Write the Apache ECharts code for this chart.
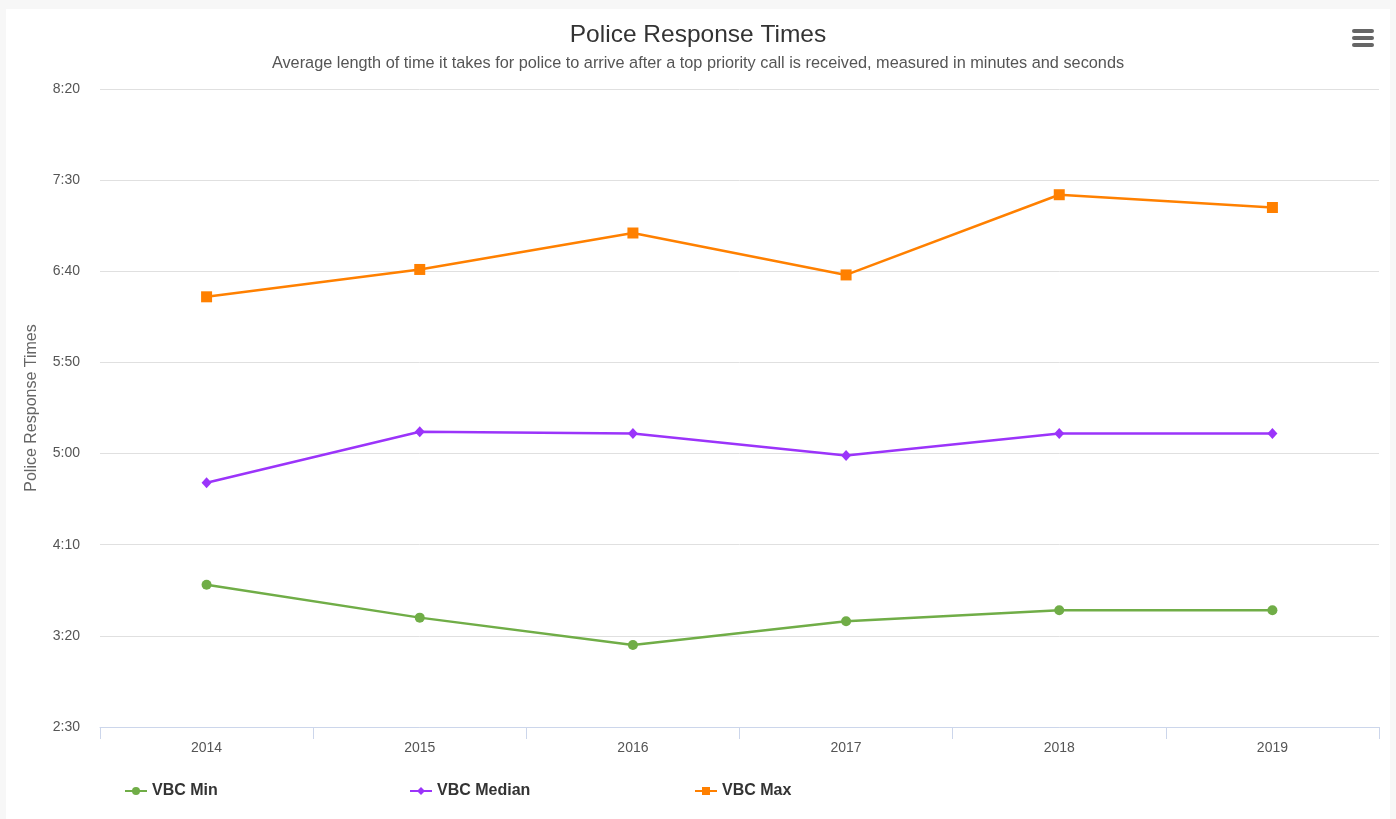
<!DOCTYPE html>
<html>
<head>
<meta charset="utf-8">
<title>Police Response Times</title>
<script src="https://cdn.jsdelivr.net/npm/echarts@6/dist/echarts.min.js"></script>
<style>
  html, body { margin: 0; padding: 0; background: #f7f7f7; }
  #card { position: absolute; left: 6px; top: 9px; width: 1384px; height: 810px; background: #ffffff; }
  #chart { position: absolute; left: 0; top: 0; width: 1396px; height: 819px; }
</style>
</head>
<body>
<div id="card"></div>
<div id="chart"></div>
<script>
// Years on the category axis
const years = ['2014', '2015', '2016', '2017', '2018', '2019'];

// Response times in seconds
const vbcMin    = [228, 210, 195, 208, 214, 214];
const vbcMedian = [284, 312, 311, 299, 311, 311];
const vbcMax    = [386, 401, 421, 398, 442, 435];

// Value axis range in seconds (2:30 to 8:20, every 50 s)
const yMin = 150;
const yMax = 500;
const yStep = 50;

const FONT = '"Liberation Sans", Arial, Helvetica, sans-serif';

function mmss(sec) {
  const m = Math.floor(sec / 60);
  const s = Math.round(sec - m * 60);
  return m + ':' + (s < 10 ? '0' + s : s);
}

const chart = echarts.init(document.getElementById('chart'), null, { renderer: 'canvas' });

function legendAt(name, left) {
  return {
    data: [name],
    left: left,
    top: 778,
    itemWidth: 22,
    itemHeight: 10,
    itemGap: 6,
    textStyle: { fontFamily: FONT, fontSize: 16, fontWeight: 'bold', color: '#333333' }
  };
}

const option = {
  backgroundColor: 'transparent',
  animation: false,
  textStyle: { fontFamily: FONT },
  title: {
    text: 'Police Response Times',
    subtext: 'Average length of time it takes for police to arrive after a top priority call is received, measured in minutes and seconds',
    left: 'center',
    top: 18,
    itemGap: 8,
    textStyle: { fontFamily: FONT, fontSize: 24.5, fontWeight: 'normal', color: '#333333' },
    subtextStyle: { fontFamily: FONT, fontSize: 16.3, color: '#555555' }
  },
  legend: [
    legendAt('VBC Min', 119),
    legendAt('VBC Median', 404),
    legendAt('VBC Max', 689)
  ],
  grid: { left: 100, right: 17, top: 89, bottom: 92, containLabel: false },
  xAxis: {
    type: 'category',
    data: years,
    boundaryGap: true,
    axisLine: { lineStyle: { color: '#ccd6eb', width: 1 } },
    axisTick: { show: true, alignWithLabel: false, length: 12, lineStyle: { color: '#ccd6eb' } },
    axisLabel: { color: '#555555', fontSize: 14, margin: 14, fontFamily: FONT },
    splitLine: { show: false }
  },
  yAxis: {
    type: 'value',
    min: yMin,
    max: yMax,
    interval: yStep,
    name: 'Police Response Times',
    nameLocation: 'middle',
    nameRotate: 90,
    nameGap: 60,
    nameTextStyle: { color: '#666666', fontSize: 16, fontFamily: FONT },
    axisLine: { show: false },
    axisTick: { show: false },
    axisLabel: { color: '#555555', fontSize: 14, margin: 20, padding: [4, 0, 0, 0], fontFamily: FONT, formatter: mmss },
    splitLine: { lineStyle: { color: '#e0e0e0', width: 1 } }
  },
  series: [
    {
      name: 'VBC Min', type: 'line', data: vbcMin,
      symbol: 'circle', symbolSize: 10,
      itemStyle: { color: '#70ad47' },
      lineStyle: { color: '#70ad47', width: 2.5 }
    },
    {
      name: 'VBC Median', type: 'line', data: vbcMedian,
      symbol: 'diamond', symbolSize: [10, 11],
      itemStyle: { color: '#9b34fa' },
      lineStyle: { color: '#9b34fa', width: 2.5 }
    },
    {
      name: 'VBC Max', type: 'line', data: vbcMax,
      symbol: 'rect', symbolSize: 11,
      itemStyle: { color: '#ff8000' },
      lineStyle: { color: '#ff8000', width: 2.5 }
    }
  ],
  graphic: [
    // export menu button
    { type: 'rect', left: 1352, top: 29, shape: { width: 22, height: 4, r: 2 }, style: { fill: '#666666' } },
    { type: 'rect', left: 1352, top: 36, shape: { width: 22, height: 4, r: 2 }, style: { fill: '#666666' } },
    { type: 'rect', left: 1352, top: 43, shape: { width: 22, height: 4, r: 2 }, style: { fill: '#666666' } }
  ]
};

chart.setOption(option);
</script>
</body>
</html>
